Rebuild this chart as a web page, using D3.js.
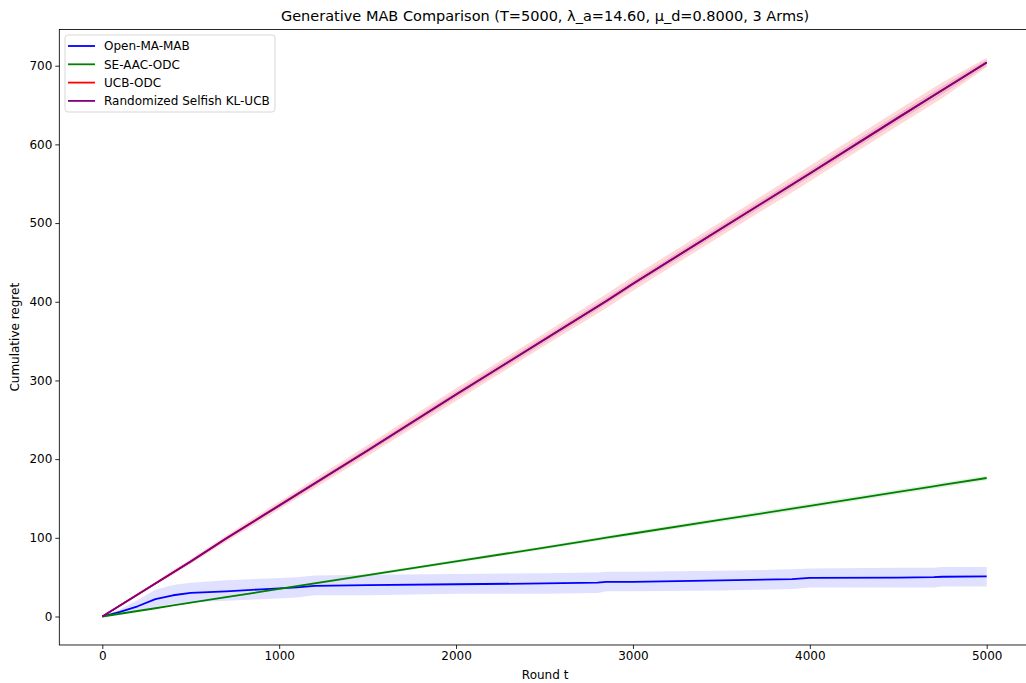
<!DOCTYPE html>
<html>
<head>
<meta charset="utf-8">
<script src="https://cdn.jsdelivr.net/npm/d3@7"></script>
<style>
  body { margin: 0; background: #fff; }
  text { font-family: "DejaVu Sans", sans-serif; fill: #000; }
</style>
</head>
<body>
<div id="chart"></div>
<script>
const rounds = [0, 100, 200, 300, 400, 500, 700, 900, 1100, 1200, 1500, 2000, 2500, 2800, 2850, 3000, 3500, 3900, 4000, 4500, 4700, 4750, 5000];

// Open-MA-MAB (mean, lower, upper)
const openMean = [0, 6, 13, 22, 27, 30, 32, 34.5, 37, 39, 40, 41, 42, 43, 44, 44, 46, 47.5, 49, 49.5, 50, 50.5, 51];
const openLo   = [0, 3, 7, 12, 16, 18, 20, 22, 24, 27, 27, 29, 29, 30, 32, 32, 33, 35, 37, 37, 37, 38, 38];
const openHi   = [0, 9, 21, 34, 40, 43, 46, 48, 50, 52, 53, 54, 55, 56, 57, 57, 58, 60, 61, 62, 62, 63, 63];

// SE-AAC-ODC
const seMean = [0, 3.5, 7, 10.5, 14, 17.5, 24.5, 31.5, 38.5, 42, 52.5, 70, 87.5, 98.3, 100.1, 105.5, 123, 137, 140.5, 158.3, 165.4, 167.2, 176];
const seLo   = [0, 3.3, 6.7, 10, 13.4, 16.8, 23.6, 30.4, 37.2, 40.6, 50.8, 68, 85.3, 95.8, 97.6, 103, 120.2, 134, 137.5, 155.3, 162.3, 164, 173];
const seHi   = [0, 3.7, 7.3, 11, 14.6, 18.2, 25.4, 32.6, 39.8, 43.4, 54.2, 72, 89.7, 100.8, 102.6, 108, 125.8, 140, 143.5, 161.3, 168.5, 170.4, 179];

// UCB-ODC
const ucbMean = [0, 14, 28, 42, 56, 70, 99, 127, 155, 169, 211, 282, 352, 394, 401, 423, 493, 549, 563, 634, 662, 669, 704];
const ucbLo   = [0, 13, 26, 40, 53, 67, 95, 122, 150, 163, 204, 274, 344, 385, 392, 414, 484, 539, 553, 624, 652, 659, 698];
const ucbHi   = [0, 15, 30, 44, 59, 73, 103, 132, 160, 175, 218, 290, 360, 403, 410, 432, 502, 559, 573, 644, 672, 679, 710];

// Randomized Selfish KL-UCB
const rsMean = [0, 14, 28, 42, 56, 70, 99, 127, 155, 169, 211, 282, 352, 394, 401, 423, 493, 549, 563, 634, 662, 669, 704];
const rsLo   = [0, 13.5, 27, 41, 54.5, 68, 97, 124.5, 152, 166, 207.5, 278, 348, 390, 397, 419, 488.5, 544.5, 558.5, 629, 657, 664, 700];
const rsHi   = [0, 14.5, 29, 43, 57.5, 72, 101, 129.5, 158, 172, 214.5, 286, 356, 398, 405, 427, 497.5, 553.5, 567.5, 639, 667, 674, 708];

const xTicks = [0, 1000, 2000, 3000, 4000, 5000];
const yTicks = [0, 100, 200, 300, 400, 500, 600, 700];

const titleText = "Generative MAB Comparison (T=5000, λ_a=14.60, μ_d=0.8000, 3 Arms)";

const series = [
  { name: "Open-MA-MAB", color: "#0000ff", mean: openMean, lo: openLo, hi: openHi, alpha: 0.12 },
  { name: "SE-AAC-ODC", color: "#008000", mean: seMean, lo: seLo, hi: seHi, alpha: 0.12 },
  { name: "UCB-ODC", color: "#ff0000", mean: ucbMean, lo: ucbLo, hi: ucbHi, alpha: 0.15 },
  { name: "Randomized Selfish KL-UCB", color: "#800080", mean: rsMean, lo: rsLo, hi: rsHi, alpha: 0.15 }
];

const W = 1026, H = 683;
const svg = d3.select("#chart").append("svg").attr("width", W).attr("height", H);

const x = d3.scaleLinear().domain([0, 5000]).range([102.3, 986.7]);
const y = d3.scaleLinear().domain([0, 700]).range([616.5, 65.7]);

const boxL = x(-243), boxR = x(5250), boxT = y(746), boxB = y(-36.2);

const plot = svg.append("g");

// bands and lines, in plotting order
series.forEach(s => {
  const pts = rounds.map((t, i) => ({ t: t, m: s.mean[i], lo: s.lo[i], hi: s.hi[i] }));
  plot.append("path")
    .datum(pts)
    .attr("d", d3.area().x(d => x(d.t)).y0(d => y(d.lo)).y1(d => y(d.hi)))
    .attr("fill", s.color)
    .attr("fill-opacity", s.alpha)
    .attr("stroke", "none");
  plot.append("path")
    .datum(pts)
    .attr("d", d3.line().x(d => x(d.t)).y(d => y(d.m)))
    .attr("fill", "none")
    .attr("stroke", s.color)
    .attr("stroke-width", 1.8)
    .attr("stroke-linejoin", "round");
});

// axes
const xAxis = d3.axisBottom(x).tickValues(xTicks).tickSize(4).tickPadding(3).tickFormat(d3.format("d"));
const yAxis = d3.axisLeft(y).tickValues(yTicks).tickSize(4).tickPadding(3).tickFormat(d3.format("d"));

const gx = svg.append("g").attr("transform", `translate(0,${boxB})`).call(xAxis);
const gy = svg.append("g").attr("transform", `translate(${boxL},0)`).call(yAxis);
[gx, gy].forEach(g => {
  g.select(".domain").remove();
  g.selectAll(".tick line").attr("stroke", "#000").attr("stroke-width", 0.85);
  g.selectAll(".tick text").attr("font-size", 12).attr("fill", "#000")
    .style("font-family", "DejaVu Sans, sans-serif");
});

// frame
svg.append("rect")
  .attr("x", boxL).attr("y", boxT)
  .attr("width", boxR - boxL).attr("height", boxB - boxT)
  .attr("fill", "none").attr("stroke", "#000").attr("stroke-width", 0.85);

// title and labels
svg.append("text").attr("x", (boxL + boxR) / 2).attr("y", 21)
  .attr("text-anchor", "middle").attr("font-size", 14.5).text(titleText);
svg.append("text").attr("x", (boxL + boxR) / 2).attr("y", 679)
  .attr("text-anchor", "middle").attr("font-size", 12).text("Round t");
svg.append("text")
  .attr("transform", `translate(19,${(boxT + boxB) / 2}) rotate(-90)`)
  .attr("text-anchor", "middle").attr("font-size", 12).text("Cumulative regret");

// legend
const lg = svg.append("g").attr("transform", "translate(65,35)");
lg.append("rect").attr("x", 0).attr("y", 0).attr("width", 210).attr("height", 77)
  .attr("rx", 3).attr("fill", "#fff").attr("fill-opacity", 0.8)
  .attr("stroke", "#d0d0d0").attr("stroke-width", 0.85);
series.forEach((s, i) => {
  const yy = 11 + i * 18.3;
  lg.append("line").attr("x1", 3).attr("x2", 30).attr("y1", yy).attr("y2", yy)
    .attr("stroke", s.color).attr("stroke-width", 1.8);
  lg.append("text").attr("x", 39).attr("y", yy + 4.3).attr("font-size", 12).text(s.name);
});
</script>
</body>
</html>
